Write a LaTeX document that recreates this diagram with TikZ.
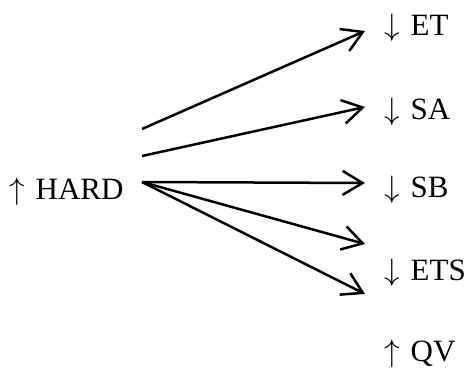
\documentclass[tikz,border=0pt]{standalone}
\usepackage{graphicx}
\usepackage{fontspec}
\setmainfont{Liberation Serif}
\usetikzlibrary{arrows.meta}
% trend arrows, taken from the 10pt math symbols and enlarged
\newcommand{\trendup}{\scalebox{3.1}{\normalsize$\uparrow$}\hspace{11pt}}
\newcommand{\trenddown}{\scalebox{3.1}{\normalsize$\downarrow$}\hspace{11pt}}
\begin{document}
\begin{tikzpicture}[x=1pt,y=-1pt,
  lbl/.style={anchor=base west,inner sep=0pt,font=\fontsize{31}{36}\selectfont},
  link/.style={line width=2.5pt,-{Straight Barb[length=20pt,width=24pt,line width=2.5pt]}}]
  \useasboundingbox (0,0) rectangle (466,369);
  % source and target labels
  \node[lbl] (hard) at (9,199)   {\trendup HARD};
  \node[lbl] (et)   at (384,36)  {\trenddown ET};
  \node[lbl] (sa)   at (384,119) {\trenddown SA};
  \node[lbl] (sb)   at (384,197) {\trenddown SB};
  \node[lbl] (ets)  at (384,280) {\trenddown ETS};
  \node[lbl] (qv)   at (384,361) {\trendup QV};
  % line start and end points
  \coordinate (s1) at (142,129);
  \coordinate (s2) at (142,156);
  \coordinate (s3) at (142,182);
  \coordinate (t1) at (365,31);
  \coordinate (t2) at (365,107);
  \coordinate (t3) at (365,183);
  \coordinate (t4) at (365,244);
  \coordinate (t5) at (365,294);
  % effects of HARD
  \draw[link] (s1) -- (t1);
  \draw[link] (s2) -- (t2);
  \draw[link] (s3) -- (t3);
  \draw[link] (s3) -- (t4);
  \draw[link] (s3) -- (t5);
\end{tikzpicture}
\end{document}
